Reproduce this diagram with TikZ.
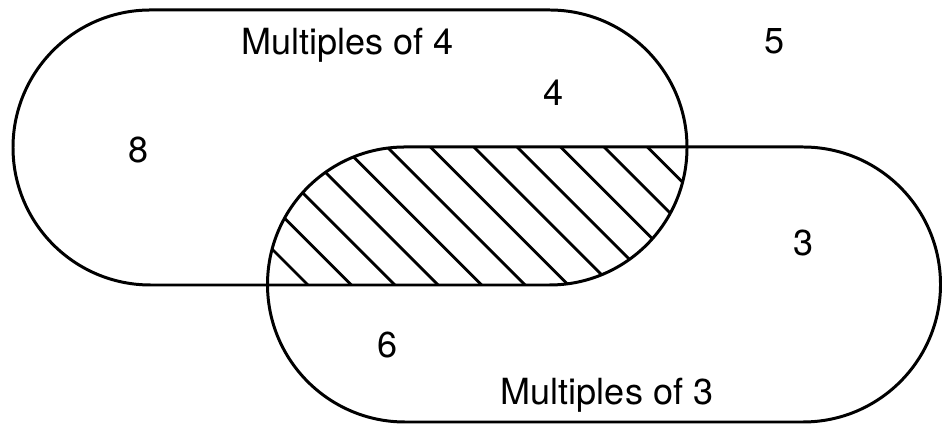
\documentclass[tikz,border=0pt]{standalone}
\usepackage{fontspec}
\setmainfont{TeX Gyre Heros}

% outlines of the two sets (one unit = one pixel)
\def\setfour{(150.5,415) -- (549.5,415) arc[start angle=90, end angle=-90, radius=137.5]
	-- (150.5,140) arc[start angle=270, end angle=90, radius=137.5] -- cycle}
\def\setthree{(405,278) -- (803,278) arc[start angle=90, end angle=-90, radius=137.5]
	-- (405,3) arc[start angle=270, end angle=90, radius=137.5] -- cycle}

\begin{document}
\begin{tikzpicture}[
				x = 0.02cm, y = 0.02cm, % one unit per pixel
				line width = 1.7pt, % outline style
				font = \fontsize{20.5}{24}\selectfont
				]
				
				\tikzstyle{venn}=[
				draw = black,
				line width = 1.7pt
				]
				\tikzstyle{hatchline}=[line width = 1.6pt]
				\tikzstyle{entry}=[anchor = base, inner sep = 0pt]
				
				\useasboundingbox (0,0) rectangle (942,425);
				
				% shaded intersection
				\begin{scope}
					\clip \setfour;
					\clip \setthree;
					\foreach \c in {0,...,11}
						\draw[hatchline] ({23+43.4*\c+425},0) -- ({23+43.4*\c},425);
				\end{scope}
				
				\draw[venn] \setfour;
				\draw[venn] \setthree;
				
				\node[entry] (mfour) at (347.5,370) {Multiples of 4};
				\node[entry] (mthree) at (607,20) {Multiples of 3};
				\node[entry] (five) at (774.5,371) {5};
				\node[entry] (four) at (554,319) {4};
				\node[entry] (eight) at (138.5,262) {8};
				\node[entry] (three) at (803.5,169.3) {3};
				\node[entry] (six) at (388,67) {6};
			\end{tikzpicture}
\end{document}
